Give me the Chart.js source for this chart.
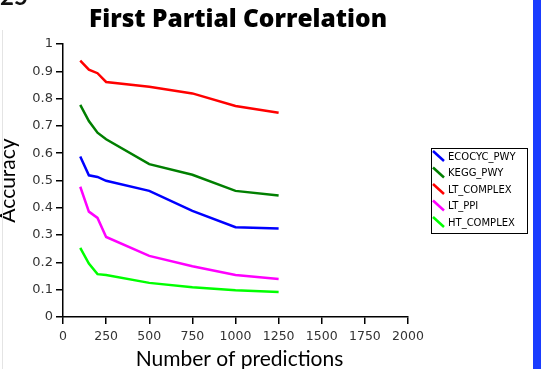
<!DOCTYPE html>
<html>
<head>
<meta charset="utf-8">
<script src="https://cdn.jsdelivr.net/npm/chart.js@4"></script>
<style>
  html, body { margin: 0; padding: 0; background: #fff; overflow: hidden; }
  #wrap { position: relative; width: 548px; height: 369px; }
  #barra { position: absolute; left: 533px; top: 0; width: 8px; height: 369px; background: #1a3cff; }
  #corte { position: absolute; left: 0; top: -19px; font: bold 24px Lato, sans-serif; color: #111; }
  #borde { position: absolute; left: 2px; top: 30px; width: 1px; height: 339px; background: #e4e4e4; }
</style>
</head>
<body>
<div id="wrap">
  <canvas id="grafica" width="548" height="369"></canvas>
  <div id="barra"></div>
  <div id="corte">25</div>
  <div id="borde"></div>
</div>
<script>
// datos
const predicciones = [100, 150, 200, 250, 500, 750, 1000, 1250];
const ecocycPwy  = [0.588, 0.519, 0.513, 0.499, 0.462, 0.389, 0.329, 0.324];
const keggPwy    = [0.777, 0.718, 0.675, 0.651, 0.560, 0.521, 0.462, 0.445];
const ltComplex  = [0.939, 0.906, 0.893, 0.861, 0.843, 0.819, 0.773, 0.748];
const ltPpi      = [0.477, 0.386, 0.363, 0.293, 0.224, 0.186, 0.154, 0.139];
const htComplex  = [0.253, 0.196, 0.157, 0.154, 0.125, 0.109, 0.098, 0.092];

const nombres = ["ECOCYC_PWY", "KEGG_PWY", "LT_COMPLEX", "LT_PPI", "HT_COMPLEX"];
const colores = ["#0000ff", "#007f00", "#ff0000", "#ff00ff", "#00ff00"];
const series = [ecocycPwy, keggPwy, ltComplex, ltPpi, htComplex];

const titulo = "First Partial Correlation";
const tituloX = "Number of predictions";
const tituloY = "Accuracy";

const datasets = series.map((vals, i) => ({
    label: nombres[i],
    data: vals.map((v, j) => ({ x: predicciones[j], y: v })),
    borderColor: colores[i],
    backgroundColor: colores[i],
    borderWidth: 2.5,
    pointRadius: 0,
    tension: 0,
    fill: false
}));

// textos y leyenda dibujados a mano
const decorado = {
    id: "decorado",
    afterDraw(chart) {
        const ctx = chart.ctx;
        const area = chart.chartArea;
        ctx.save();
        ctx.fillStyle = "#000";
        ctx.textAlign = "center";
        ctx.textBaseline = "alphabetic";
        ctx.font = "800 24.5px 'Open Sans', sans-serif";
        ctx.fillText(titulo, 238, 27);

        ctx.font = "21px Lato, sans-serif";
        ctx.fillText(tituloX, (area.left + area.right) / 2 + 4, 366);

        ctx.translate(15, (area.top + area.bottom) / 2);
        ctx.rotate(-Math.PI / 2);
        ctx.fillText(tituloY, 0, 0);
        ctx.restore();

        // leyenda
        ctx.save();
        const lx = 431, ly = 148, lw = 96, lh = 85;
        ctx.fillStyle = "#fff";
        ctx.fillRect(lx, ly, lw, lh);
        ctx.strokeStyle = "#000";
        ctx.lineWidth = 1;
        ctx.strokeRect(lx + 0.5, ly + 0.5, lw, lh);
        ctx.font = "10px 'DejaVu Sans', sans-serif";
        ctx.textAlign = "left";
        ctx.textBaseline = "middle";
        chart.data.datasets.forEach((ds, i) => {
            const cy = ly + 8 + i * 16.5;
            ctx.strokeStyle = ds.borderColor;
            ctx.lineWidth = 2.5;
            ctx.beginPath();
            ctx.moveTo(lx + 2, cy - 5);
            ctx.lineTo(lx + 13, cy + 5);
            ctx.stroke();
            ctx.fillStyle = "#000";
            ctx.fillText(ds.label, lx + 17, cy + 1);
        });
        ctx.restore();
    }
};

const $grafica = document.querySelector("#grafica");

new Chart($grafica, {
    type: "line",
    data: { datasets: datasets },
    options: {
        responsive: false,
        animation: false,
        layout: { padding: { top: 44, left: 0, right: 140, bottom: 0 } },
        plugins: {
            legend: { display: false },
            title: { display: false },
            tooltip: { enabled: false }
        },
        scales: {
            x: {
                type: "linear",
                min: 0,
                max: 2000,
                afterFit(scale) { scale.height = 52; },
                ticks: {
                    stepSize: 250,
                    color: "#333",
                    padding: 5,
                    maxRotation: 0,
                    font: { family: "'DejaVu Sans'", size: 12.5 },
                    callback: (v) => String(v)
                },
                grid: { drawOnChartArea: false, tickLength: 7, color: "#000", lineWidth: 1.5 },
                border: { color: "#000", width: 1.5 }
            },
            y: {
                min: 0,
                max: 1,
                afterFit(scale) { scale.width = 63; },
                ticks: {
                    stepSize: 0.1,
                    color: "#333",
                    padding: 3,
                    font: { family: "'DejaVu Sans'", size: 13 },
                    callback: (v) => Math.round(v * 10) / 10
                },
                grid: { drawOnChartArea: false, tickLength: 7, color: "#000", lineWidth: 1.5 },
                border: { color: "#000", width: 1.5 }
            }
        }
    },
    plugins: [decorado]
});
</script>
</body>
</html>
